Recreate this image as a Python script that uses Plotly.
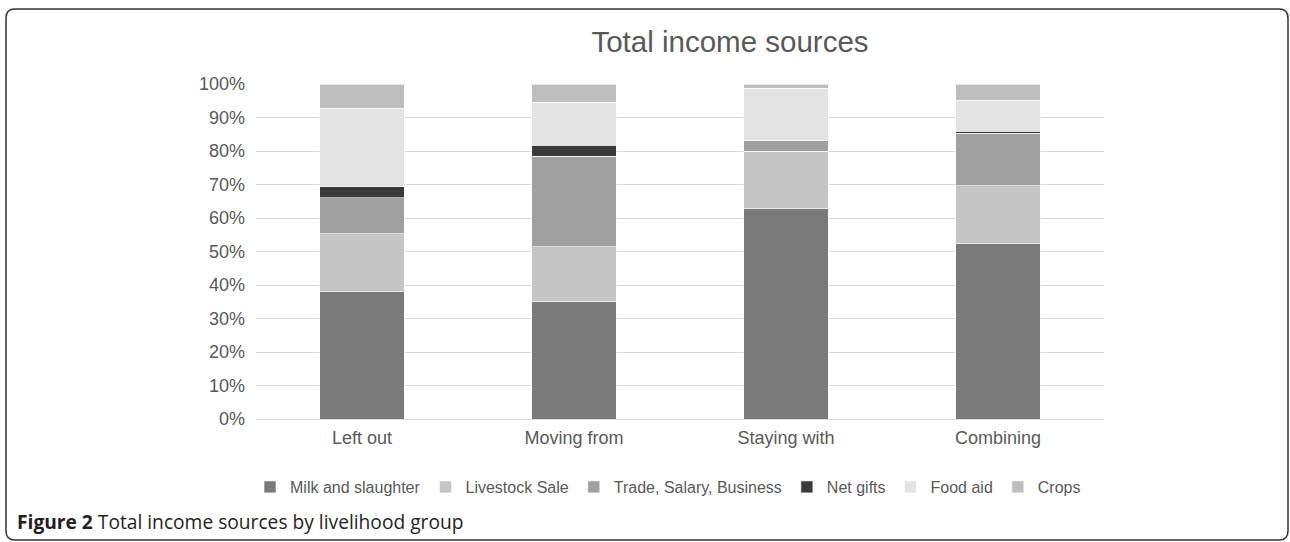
import plotly.graph_objects as go

categories = ["Left out", "Moving from", "Staying with", "Combining"]
milk = [38.0, 35.0, 62.8, 52.4]
livestock = [17.3, 16.4, 17.1, 17.2]
trade = [10.7, 27.1, 3.1, 15.7]
net_gifts = [3.4, 3.2, 0.0, 0.6]
food_aid = [23.4, 12.8, 15.8, 9.3]
crops = [7.2, 5.5, 1.2, 4.8]

series = [
    ("Milk and slaughter", milk, "#7a7a7a"),
    ("Livestock Sale", livestock, "#c4c5c4"),
    ("Trade, Salary, Business", trade, "#a0a0a0"),
    ("Net gifts", net_gifts, "#3a3a38"),
    ("Food aid", food_aid, "#e2e3e2"),
    ("Crops", crops, "#bdbebd"),
]

W, H = 1290, 542
L, R, T, B = 256, 1104, 84, 419
FONT = "Liberation Sans"

fig = go.Figure()
for name, vals, col in series:
    fig.add_trace(go.Bar(
        x=categories, y=[v / 100 for v in vals], name=name,
        marker=dict(color=col, line=dict(color="#ffffff", width=0.6)),
    ))

def px_x(p):
    return (p - L) / (R - L)

def px_y(p):
    return (B - p) / (B - T)

# rounded border
x0, x1, y0, y1 = 6, 1288, 9, 540
r = 9
def P(x, y):
    return f"{px_x(x):.5f},{px_y(y):.5f}"
path = (f"M {P(x0 + r, y0)} L {P(x1 - r, y0)} Q {P(x1, y0)} {P(x1, y0 + r)} "
        f"L {P(x1, y1 - r)} Q {P(x1, y1)} {P(x1 - r, y1)} "
        f"L {P(x0 + r, y1)} Q {P(x0, y1)} {P(x0, y1 - r)} "
        f"L {P(x0, y0 + r)} Q {P(x0, y0)} {P(x0 + r, y0)} Z")

fig.update_layout(
    width=W, height=H,
    margin=dict(l=L, r=W - R, t=T, b=H - B),
    barmode="stack", bargap=0.6,
    plot_bgcolor="white", paper_bgcolor="white",
    font=dict(family=FONT, color="#595959"),
    title=dict(text="Total income sources", x=730 / W, xanchor="center",
               y=1 - 42 / H, yanchor="middle",
               font=dict(family=FONT, size=29.5, color="#595959")),
    xaxis=dict(showgrid=False, showline=False, ticks="",
               tickfont=dict(family=FONT, size=18, color="#595959"),
               ticklabelstandoff=6),
    yaxis=dict(range=[0, 1], tickformat=".0%", dtick=0.1,
               gridcolor="#d9d9d9", gridwidth=1, zeroline=True,
               zerolinecolor="#d9d9d9", zerolinewidth=1, showline=False,
               tickfont=dict(family=FONT, size=18, color="#595959"),
               ticklabelstandoff=10),
    legend=dict(orientation="h", x=px_x(668), xanchor="center",
                y=px_y(487), yanchor="middle",
                font=dict(family=FONT, size=16, color="#595959"),
                traceorder="normal", itemwidth=30, tracegroupgap=0),
    showlegend=True,
    shapes=[dict(type="path", path=path, xref="paper", yref="paper",
                 line=dict(color="#333333", width=1.5), layer="above")],
    annotations=[dict(
        text="<b>Figure 2</b> Total income sources by livelihood group",
        xref="paper", yref="paper", x=px_x(15), y=px_y(521),
        xanchor="left", yanchor="middle", showarrow=False,
        font=dict(family="Open Sans", size=19.2, color="#231f20"))],
)

fig.write_html("out.html")
